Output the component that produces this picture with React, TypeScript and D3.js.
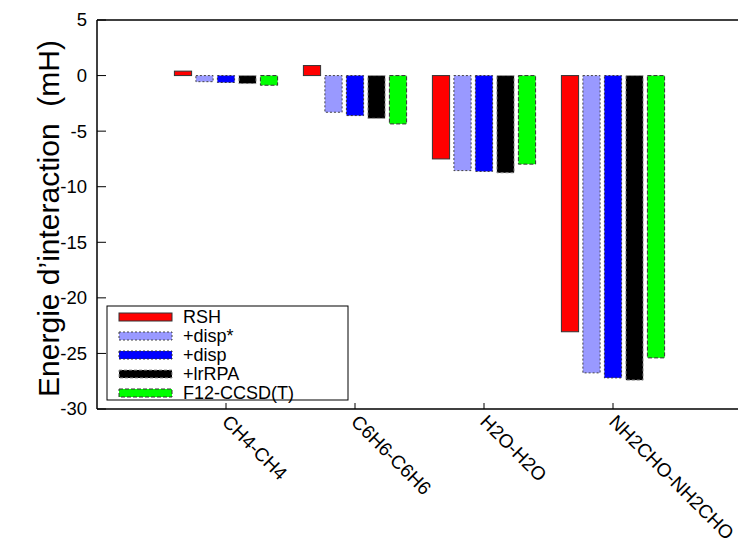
import React from "react";
import * as d3 from "d3";

const categories = ["CH4-CH4", "C6H6-C6H6", "H2O-H2O", "NH2CHO-NH2CHO"];
const seriesNames = ["RSH", "+disp*", "+disp", "+lrRPA", "F12-CCSD(T)"];
const rsh = [0.4, 0.9, -7.5, -23.05];
const dispStar = [-0.55, -3.3, -8.55, -26.75];
const disp = [-0.62, -3.6, -8.62, -27.2];
const lrRPA = [-0.72, -3.85, -8.75, -27.4];
const f12 = [-0.87, -4.35, -7.97, -25.4];
const yTicks = [5, 0, -5, -10, -15, -20, -25, -30];

const seriesValues = [rsh, dispStar, disp, lrRPA, f12];
const styles = [
  { fill: "#ff0000", stroke: "#333", dash: "none" },
  { fill: "#9999ff", stroke: "#444", dash: "2,2" },
  { fill: "#0000ff", stroke: "#333", dash: "2,2" },
  { fill: "#000000", stroke: "#999", dash: "3,2" },
  { fill: "#00ff00", stroke: "#333", dash: "4,2" },
];

const W = 738;
const H = 543;
const FONT = "'Liberation Sans', Arial, Helvetica, sans-serif";

export default function App() {
  const x = d3.scaleLinear().domain([0, 5]).range([97, 742]);
  const y = d3.scaleLinear().domain([-30, 5]).range([409, 20]);
  const step = (x(1) - x(0)) / 6;
  const bw = step * 0.8;
  const y0 = y(0);

  return (
    <svg
      width={W}
      height={H}
      style={{ position: "absolute", left: 0, top: 0, background: "#fff" }}
      fontFamily={FONT}
    >
      {/* bars */}
      {categories.map((c, i) =>
        seriesValues.map((vals, j) => {
          const cx = x(i + 1) + (j - 2) * step;
          const v = vals[i];
          const top = Math.min(y(v), y0);
          const h = Math.abs(y(v) - y0);
          const s = styles[j];
          return (
            <rect
              key={c + j}
              x={cx - bw / 2}
              y={top}
              width={bw}
              height={h}
              fill={s.fill}
              stroke={s.stroke}
              strokeWidth={1}
              strokeDasharray={s.dash}
            />
          );
        })
      )}

      {/* axes frame */}
      <line x1={x(0)} x2={W} y1={y(5)} y2={y(5)} stroke="#000" strokeWidth={1.5} />
      <line x1={x(0)} x2={x(0)} y1={y(5)} y2={y(-30)} stroke="#000" strokeWidth={1.5} />
      <line x1={x(0)} x2={W} y1={y(-30)} y2={y(-30)} stroke="#000" strokeWidth={1.5} />

      {/* y ticks */}
      {yTicks.map((t) => (
        <g key={t}>
          <line x1={x(0)} x2={x(0) + 9} y1={y(t)} y2={y(t)} stroke="#000" strokeWidth={1} />
          <text
            x={87}
            y={y(t)}
            dy="0.35em"
            textAnchor="end"
            fontSize={18.5}
            fill="#000"
          >
            {t}
          </text>
        </g>
      ))}

      {/* x ticks and labels */}
      {categories.map((c, i) => (
        <g key={c}>
          <line x1={x(i + 1)} x2={x(i + 1)} y1={y(-30)} y2={y(-30) - 6} stroke="#000" strokeWidth={1} />
          <text
            transform={`translate(${x(i + 1) - 5},${y(-30) + 14}) rotate(45)`}
            fontSize={19}
            fill="#000"
            textAnchor="start"
          >
            {c}
          </text>
        </g>
      ))}

      {/* y title */}
      <text
        transform={`translate(48,${(y(5) + y(-30)) / 2 + 4}) rotate(-90)`}
        textAnchor="middle"
        dy="0.35em"
        fontSize={30}
        fill="#000"
      >
        {"Energie d\u2019interaction\u00a0\u00a0(mH)"}
      </text>

      {/* legend */}
      <rect x={107} y={306} width={241} height={94} fill="#fff" stroke="#000" strokeWidth={1} />
      {seriesNames.map((n, j) => {
        const ly = 317 + j * 19;
        const s = styles[j];
        return (
          <g key={n}>
            <rect
              x={119}
              y={ly - 4}
              width={53}
              height={8}
              fill={s.fill}
              stroke={s.stroke}
              strokeWidth={1}
              strokeDasharray={s.dash}
            />
            <text x={183} y={ly} dy="0.35em" fontSize={18} fill="#000">
              {n}
            </text>
          </g>
        );
      })}
    </svg>
  );
}
